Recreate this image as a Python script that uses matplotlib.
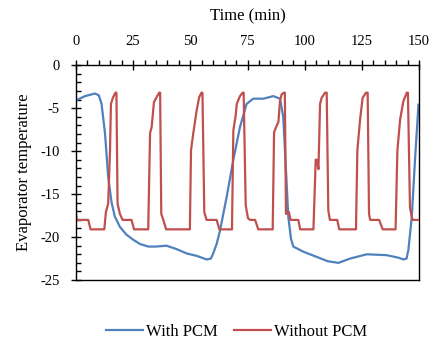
import matplotlib
matplotlib.use('Agg')
import matplotlib.pyplot as plt
from matplotlib.ticker import MultipleLocator

# With PCM (time in min, evaporator temperature)
pcm_t = [0, 4, 8.3, 10, 11.2, 12.7, 14.1, 15.6, 17, 19.2, 22, 25, 28, 31.6, 35, 39.6,
         44, 48.4, 53, 57.1, 59, 60, 61.5, 63, 65.9, 68.8, 71.7, 74.6, 77.5, 81.9,
         86.3, 89.2, 90.6, 92.1, 92.8, 94, 95, 99.4, 105.2, 110, 114.7, 119.8,
         127.1, 135.8, 141, 143.1, 144.5, 145.3, 146.8, 148.2, 149.7]
pcm_v = [-4.1, -3.6, -3.3, -3.5, -4.5, -7.9, -13.0, -16.0, -17.6, -18.8, -19.7, -20.3,
         -20.8, -21.1, -21.1, -21.0, -21.4, -21.9, -22.2, -22.6, -22.5, -21.9, -20.8,
         -19.2, -15.3, -11.0, -7.2, -4.5, -3.9, -3.9, -3.6, -3.9, -6.0, -13.8, -17.6,
         -20.2, -21.1, -21.7, -22.3, -22.8, -23.0, -22.5, -22.0, -22.1, -22.4, -22.6,
         -22.5, -21.5, -17.6, -11.0, -4.6]

# Without PCM
no_t = [0, 0.3, 5.4, 6.4, 12.4, 13.1, 14.1, 14.9, 15.3, 16.3, 17.3, 17.7, 18.2, 19.2,
        20.4, 24.3, 25.4, 31.6, 32.4, 33.1, 34.1, 35.3, 36.4, 36.8, 37.3, 38.2, 39.4,
        49.8, 50.3, 51.3, 52.8, 53.9, 54.9, 55.3, 56.1, 57.1, 61.5, 62.7, 68.2, 68.8,
        69.8, 70.3, 71.7, 72.9, 73.3, 74.2, 75.2, 76.1, 78.3, 79.7, 86.0, 86.6, 87.5,
        88.5, 89.2, 89.9, 90.9, 91.3, 91.8, 93.1, 93.8, 97.2, 98.0, 103.8, 104.8,
        105.3, 106.0, 106.7, 107.4, 108.9, 109.6, 110.3, 111.0, 114.2, 115.1, 122.4,
        123.0, 124.2, 125.3, 126.8, 127.5, 128.1, 128.6, 132.5, 134.1, 139.7, 140.5,
        141.7, 143.1, 144.6, 145.1, 146.0, 147.1, 149.3]
no_v = [-17.1, -18.0, -18.0, -19.1, -19.1, -17.1, -16.1, -9.9, -4.5, -3.7, -3.2, -3.2,
        -16.1, -17.3, -18.0, -18.0, -19.1, -19.1, -7.9, -7.2, -4.3, -3.7, -3.2, -3.2,
        -17.3, -18.0, -19.1, -19.1, -9.9, -7.9, -5.2, -3.7, -3.2, -3.2, -17.1, -18.0,
        -18.0, -19.1, -19.1, -7.6, -5.9, -4.5, -3.6, -3.2, -3.2, -16.3, -17.8, -18.0,
        -18.0, -19.1, -19.1, -7.8, -7.2, -6.6, -4.1, -3.4, -3.2, -3.2, -17.3, -17.1,
        -18.0, -18.0, -19.1, -19.1, -11.0, -11.0, -12.1, -4.5, -3.8, -3.2, -3.2, -16.9,
        -18.0, -18.0, -19.1, -19.1, -9.9, -6.3, -3.8, -3.2, -3.2, -17.3, -18.0, -18.0,
        -19.1, -19.1, -9.9, -6.3, -4.2, -3.2, -3.2, -16.6, -18.0, -18.0]

plt.rcParams['font.family'] = ['Liberation Serif', 'DejaVu Serif']
plt.rcParams['axes.unicode_minus'] = False

fig = plt.figure(figsize=(4.44, 3.60), dpi=100)
ax = fig.add_axes([0.171, 0.222, 0.773, 0.597])

ax.plot(pcm_t, pcm_v, color='#4F81BD', linewidth=1.6, label='With PCM')
ax.plot(no_t, no_v, color='#C0504D', linewidth=1.6, label='Without PCM')

ax.set_xlim(0, 150)
ax.set_ylim(-25, 0)
ax.xaxis.set_major_locator(MultipleLocator(25))
ax.xaxis.set_minor_locator(MultipleLocator(5))
ax.yaxis.set_major_locator(MultipleLocator(5))
ax.yaxis.set_minor_locator(MultipleLocator(1))

ax.xaxis.tick_top()
ax.xaxis.set_label_position('top')
ax.tick_params(axis='x', which='major', direction='inout', length=7, width=1,
               labelsize=10.5, pad=9)
ax.tick_params(axis='x', which='minor', direction='out', length=3.5, width=1)
ax.tick_params(axis='y', which='major', direction='inout', length=7, width=1,
               labelsize=10.5, pad=8)
ax.tick_params(axis='y', which='minor', direction='in', length=3.5, width=1)
for s in ax.spines.values():
    s.set_linewidth(1)

ax.set_xlabel('Time (min)', fontsize=12)
ax.xaxis.set_label_coords(0.5, 1.228)
ax.xaxis.label.set_va('center')
ax.set_ylabel('Evaporator temperature', fontsize=12)
ax.yaxis.set_label_coords(-0.152, 0.5)
ax.yaxis.label.set_va('center')

fig.legend(loc='center', bbox_to_anchor=(0.533, 0.079), ncol=2, frameon=False,
           fontsize=12, handlelength=2.2, handletextpad=0.2, columnspacing=1.0)

fig.savefig('out.png', dpi=100)
